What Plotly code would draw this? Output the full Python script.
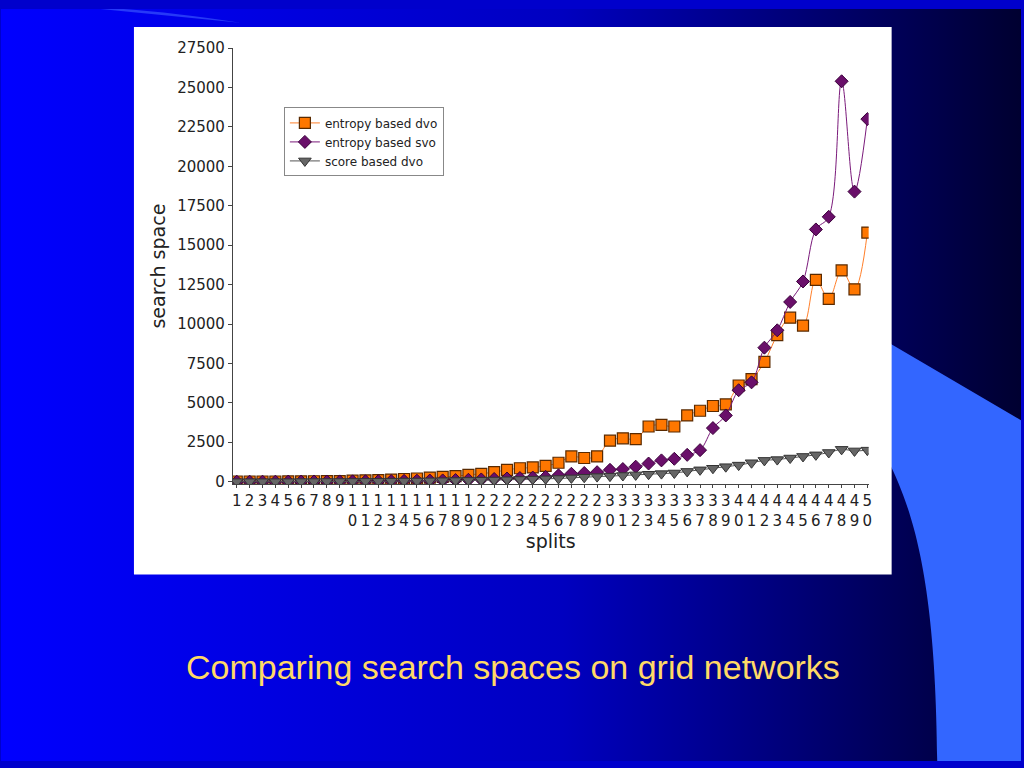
import plotly.graph_objects as go
import base64

splits = list(range(1, 51))
entropy_dvo = [10,10,10,10,15,20,25,30,40,60,80,100,130,170,200,250,300,350,430,500,
               600,750,850,900,1000,1200,1600,1500,1600,2600,2750,2700,3500,3600,3500,4200,4500,4800,4900,6100,
               6500,7600,9300,10400,9900,12800,11600,13400,12200,15800]
entropy_svo = [0,0,0,0,5,5,10,10,15,20,25,30,40,50,60,70,80,100,120,140,
               170,200,230,260,300,400,500,550,600,750,800,950,1150,1350,1450,1700,2000,3400,4200,5800,
               6300,8500,9600,11400,12700,16000,16800,25400,18400,23000]
score_dvo = [0,0,0,0,0,5,5,10,10,15,20,25,30,35,40,50,60,70,80,90,
             100,120,140,160,180,200,240,280,320,350,390,430,470,510,550,650,750,850,950,1050,
             1200,1350,1400,1500,1600,1700,1850,2050,1950,2000]
yticks = list(range(0, 27501, 2500))
ticktext = [str(s) if s < 10 else f"{str(s)[0]}<br>{str(s)[1]}" for s in splits]

def py(y):
    # target pixel row -> paper fraction (compensates viewer offset)
    return 1 - ((y - 8) / 0.975) / 768

def px(x):
    return (x / 0.9965) / 1024

svg = """<svg xmlns='http://www.w3.org/2000/svg' width='1024' height='768'>
<defs><linearGradient id='g' x1='0' y1='0' x2='1' y2='0'>
<stop offset='0' stop-color='#0000ff'/><stop offset='0.55' stop-color='#0000c0'/><stop offset='1' stop-color='#000030'/></linearGradient></defs>
<rect width='1024' height='768' fill='url(#g)'/>
<path d='M890 340 L1024 420 L1024 790 L940 790 C940 600 920 520 890 460 Z' fill='#3366ff'/>
<path d='M0 -10 L240 14 C120 -5 40 -5 0 0 Z' fill='#3f5fff' opacity='0.6'/>
</svg>"""
bg = "data:image/svg+xml;base64," + base64.b64encode(svg.encode()).decode()

fig = go.Figure()
fig.add_trace(go.Scatter(x=splits, y=entropy_dvo, name="entropy based dvo", mode="lines+markers",
    line=dict(color="#ff7f2a", width=1, shape="spline"),
    marker=dict(symbol="square", size=11, color="#ff7700", line=dict(color="#5a2a00", width=1.2))))
fig.add_trace(go.Scatter(x=splits, y=entropy_svo, name="entropy based svo", mode="lines+markers",
    line=dict(color="#7a1a7a", width=1, shape="spline"),
    marker=dict(symbol="diamond", size=10, color="#6a0f6a", line=dict(color="#3a003a", width=1))))
fig.add_trace(go.Scatter(x=splits, y=score_dvo, name="score based dvo", mode="lines+markers",
    line=dict(color="#555555", width=1, shape="spline"),
    marker=dict(symbol="triangle-down", size=11, color="#666666", line=dict(color="#333333", width=1))))

fig.add_layout_image(dict(source=bg, xref="paper", yref="paper", x=0, y=1, sizex=1, sizey=1,
    sizing="stretch", layer="below", xanchor="left", yanchor="top"))
fig.add_shape(type="rect", xref="paper", yref="paper", x0=px(133), x1=px(891), y0=py(571), y1=py(26),
    fillcolor="white", line=dict(width=0), layer="below")
fig.add_annotation(text="Comparing search spaces on grid networks", xref="paper", yref="paper",
    x=px(512), y=py(663), yanchor="middle", showarrow=False,
    font=dict(family="Liberation Sans, Arial", size=34, color="#ffd966"))

fig.update_layout(
    width=1024, height=768, margin=dict(l=0, r=0, t=0, b=0),
    paper_bgcolor="#0000cc", plot_bgcolor="#d9d9d9",
    font=dict(family="DejaVu Sans", color="#222222"),
    xaxis=dict(domain=[px(232), px(868)], range=[0.7, 50.1], tickvals=splits, ticktext=ticktext,
        tickfont=dict(size=15), showgrid=False, zeroline=False, showline=True, linecolor="#444",
        ticks="outside", ticklen=3,
        title=dict(text="splits", font=dict(size=19), standoff=6)),
    yaxis=dict(domain=[py(481), py(47)], range=[-150, 27500], tickvals=yticks, tickformat="d",
        tickfont=dict(size=15), showgrid=False, zeroline=False, showline=True, linecolor="#444",
        ticks="outside", ticklen=4,
        title=dict(text="search space", font=dict(size=19), standoff=6)),
    legend=dict(x=px(283), y=py(106), xanchor="left", yanchor="top", bgcolor="white",
        bordercolor="#888", borderwidth=1, font=dict(size=12), tracegroupgap=0),
)
fig.write_html("out.html", config={"displayModeBar": False},
               post_script="document.body.style.margin='0';document.body.style.overflow='hidden';")
